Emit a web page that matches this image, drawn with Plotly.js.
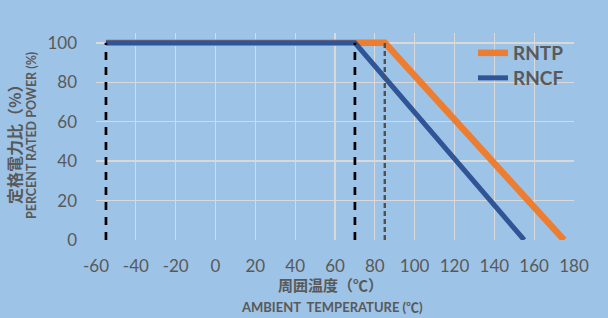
<!DOCTYPE html>
<html><head><meta charset="utf-8">
<script src="https://cdn.plot.ly/plotly-3.0.1.min.js"></script>
<style>html,body{margin:0;padding:0;background:#9DC3E6;}#c{width:608px;height:318px;}</style>
</head><body><div id="c"></div>
<script>
const rntpTemp = [-55, 85, 175];
const rntpPower = [100, 100, 0];
const rncfTemp = [-55, 70, 155];
const rncfPower = [100, 100, 0];
const guideBlackTemps = [-55, 70];
const guideGreyTemps = [85];
const guideLevel = [0, 100];
const xTicks = [-60,-40,-20,0,20,40,60,80,100,120,140,160,180];
const yTicks = [0,20,40,60,80,100];

const txt = '#595959';
const font = 'Lato, "Noto Sans CJK JP", sans-serif';
const cjk = '"Noto Sans CJK JP", sans-serif';

const traces = [
  {x: rntpTemp, y: rntpPower, name: 'RNTP', mode: 'lines', legend: 'legend', line: {color: '#ED7D31', width: 6.5}},
  {x: rncfTemp, y: rncfPower, name: 'RNCF', mode: 'lines', legend: 'legend2', line: {color: '#2F5597', width: 5}}
];
guideBlackTemps.forEach(t => traces.push({x: [t, t], y: guideLevel, mode: 'lines', showlegend: false, hoverinfo: 'skip', line: {color: '#000000', width: 2.7, dash: '8px,7px'}}));
guideGreyTemps.forEach(t => traces.push({x: [t, t], y: guideLevel, mode: 'lines', showlegend: false, hoverinfo: 'skip', line: {color: '#505050', width: 2.4, dash: '5px,3px'}}));

const W = 478, H = 207, L = 96, T = 33;
const px = v => (v - L) / W;
const py = v => (T + H - v) / H;
const legFont = {family: font, size: 19, color: txt, weight: 'bold'};

const layout = {
  width: 608, height: 318,
  paper_bgcolor: '#9DC3E6', plot_bgcolor: '#9DC3E6',
  margin: {l: L, r: 608 - L - W, t: T, b: 318 - T - H},
  showlegend: true,
  legend: {x: px(473), y: py(53), xanchor: 'left', yanchor: 'middle', bgcolor: 'rgba(0,0,0,0)', font: legFont},
  legend2: {x: px(473), y: py(78), xanchor: 'left', yanchor: 'middle', bgcolor: 'rgba(0,0,0,0)', font: legFont},
  xaxis: {range: [-60, 180], tickvals: xTicks, ticktext: xTicks.map(String), showgrid: true, gridcolor: '#D9D9D9', gridwidth: 1.3, zeroline: false, showline: false, ticks: '', tickfont: {family: font, size: 17, color: txt}, ticklabelstandoff: 14, fixedrange: true},
  yaxis: {range: [0, 105], tickvals: yTicks, ticktext: yTicks.map(String), showgrid: true, gridcolor: '#D9D9D9', gridwidth: 1.3, zeroline: false, showline: false, ticks: '', tickfont: {family: font, size: 17, color: txt}, ticklabelstandoff: 18, fixedrange: true},
  annotations: [
    {text: '周囲温度（℃）', xref: 'paper', yref: 'paper', x: px(330), y: py(284), xanchor: 'center', yanchor: 'middle', showarrow: false, font: {family: cjk, size: 15, color: txt, weight: 'bold'}},
    {text: 'AMBIENT  TEMPERATURE (℃)', xref: 'paper', yref: 'paper', x: px(332), y: py(307), xanchor: 'center', yanchor: 'middle', showarrow: false, font: {family: font, size: 13, color: txt, weight: 'bold'}},
    {text: '定格電力比（%）', xref: 'paper', yref: 'paper', x: px(14), y: py(141), xanchor: 'center', yanchor: 'middle', textangle: -90, showarrow: false, font: {family: cjk, size: 16, color: txt, weight: 'bold'}},
    {text: 'PERCENT RATED POWER (%)', xref: 'paper', yref: 'paper', x: px(31), y: py(136), xanchor: 'center', yanchor: 'middle', textangle: -90, showarrow: false, font: {family: font, size: 12.5, color: txt, weight: 'bold'}}
  ]
};
Plotly.newPlot('c', traces, layout, {staticPlot: true, displayModeBar: false});
</script></body></html>
